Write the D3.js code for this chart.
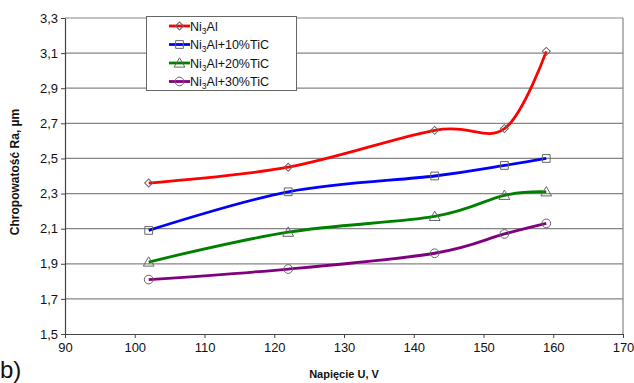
<!DOCTYPE html>
<html><head><meta charset="utf-8">
<script src="https://cdn.jsdelivr.net/npm/d3@7"></script>
<style>body{margin:0;background:#fff;}svg{display:block;font-family:Arial,"Liberation Sans",sans-serif;}</style>
</head><body>
<svg id="c" width="634" height="383"></svg>
<script>
const voltages = [102, 122, 143, 153, 159];
const ni3al = [2.36, 2.45, 2.66, 2.67, 3.11];
const tic10 = [2.09, 2.31, 2.40, 2.46, 2.50];
const tic20 = [1.91, 2.08, 2.17, 2.29, 2.31];
const tic30 = [1.81, 1.87, 1.96, 2.07, 2.13];
const seriesNames = ["Ni3Al", "Ni3Al+10%TiC", "Ni3Al+20%TiC", "Ni3Al+30%TiC"];
const seriesColors = ["#ff0000", "#0000ff", "#008000", "#800080"];
const seriesSymbols = ["diamond", "square", "triangle", "circle"];
const xTicks = [90, 100, 110, 120, 130, 140, 150, 160, 170];
const yTicks = [1.5, 1.7, 1.9, 2.1, 2.3, 2.5, 2.7, 2.9, 3.1, 3.3];

const svg = d3.select("#c");
const L = 65, R = 623, T = 18, B = 334;
const x = d3.scaleLinear().domain([90, 170]).range([L, R]);
const y = d3.scaleLinear().domain([1.5, 3.3]).range([B, T]);
const fmt = d => d3.format(".1f")(d).replace(".", ",");

// gridlines
svg.append("g").selectAll("line").data(yTicks.slice(1)).join("line")
  .attr("x1", L).attr("x2", R).attr("y1", d => y(d)).attr("y2", d => y(d))
  .attr("stroke", "#858585").attr("stroke-width", 1.2);
svg.append("line").attr("x1", R).attr("x2", R).attr("y1", T).attr("y2", B).attr("stroke", "#858585").attr("stroke-width", 1.2);

// axes
const xa = svg.append("g").attr("transform", `translate(0,${B})`)
  .call(d3.axisBottom(x).tickValues(xTicks).tickSize(4).tickSizeOuter(0).tickFormat(d3.format("d")));
const ya = svg.append("g").attr("transform", `translate(${L},0)`)
  .call(d3.axisLeft(y).tickValues(yTicks).tickSize(4).tickSizeOuter(0).tickFormat(fmt));
[xa, ya].forEach(a => {
  a.select(".domain").attr("stroke", "#444").attr("stroke-width", 1.2);
  a.selectAll(".tick line").attr("stroke", "#444");
  a.selectAll("text").attr("font-size", 13).attr("fill", "#111").attr("font-family", "Arial, 'Liberation Sans', sans-serif");
});
xa.selectAll("text").attr("dy", "0.71em").attr("y", 9);
ya.selectAll("text").attr("x", -7);

// titles
svg.append("text").attr("x", 344).attr("y", 378).attr("text-anchor", "middle")
  .attr("font-size", 11).attr("font-weight", "bold").attr("fill", "#111").text("Napięcie U, V");
svg.append("text").attr("transform", "translate(19,172) rotate(-90)").attr("text-anchor", "middle")
  .attr("font-size", 12).attr("font-weight", "bold").attr("fill", "#111").text("Chropowatość Ra, µm");
svg.append("text").attr("x", 0).attr("y", 378).attr("font-size", 24).attr("fill", "#111").text("b)");

const allSeries = [ni3al, tic10, tic20, tic30];
const line = d3.line().x((d, i) => x(voltages[i])).y(d => y(d)).curve(d3.curveCardinal.tension(0));
const symMap = {diamond: d3.symbolSquare, square: d3.symbolSquare, triangle: d3.symbolTriangle, circle: d3.symbolCircle};
const symSize = {diamond: 32, square: 60, triangle: 50, circle: 60};
const symRot = {diamond: 45, square: 0, triangle: 0, circle: 0};

allSeries.forEach((vals, k) => {
  svg.append("path").attr("d", line(vals)).attr("fill", "none")
    .attr("stroke", seriesColors[k]).attr("stroke-width", 2.8);
});
allSeries.forEach((vals, k) => {
  const s = seriesSymbols[k];
  svg.append("g").selectAll("path").data(vals).join("path")
    .attr("transform", (d, i) => `translate(${x(voltages[i])},${y(d) + (s === "triangle" ? 1 : 0)}) rotate(${symRot[s]})`)
    .attr("d", d3.symbol().type(symMap[s]).size(symSize[s]))
    .attr("fill", "none").attr("stroke", "#666").attr("stroke-width", 1);
});

// legend
const lg = svg.append("g");
lg.append("rect").attr("x", 146.5).attr("y", 16.5).attr("width", 150).attr("height", 74)
  .attr("fill", "#fff").attr("stroke", "#666").attr("stroke-width", 1);
seriesNames.forEach((n, k) => {
  const yy = 26 + k * 18.5;
  lg.append("line").attr("x1", 169).attr("x2", 190).attr("y1", yy).attr("y2", yy)
    .attr("stroke", seriesColors[k]).attr("stroke-width", 2.8);
  const s = seriesSymbols[k];
  lg.append("path").attr("transform", `translate(179.5,${yy + (s === "triangle" ? 1 : 0)}) rotate(${symRot[s]})`)
    .attr("d", d3.symbol().type(symMap[s]).size(symSize[s]))
    .attr("fill", "none").attr("stroke", "#666").attr("stroke-width", 1);
  const t = lg.append("text").attr("x", 190).attr("y", yy + 4.5).attr("font-size", 12.5).attr("fill", "#111");
  t.append("tspan").text("Ni");
  t.append("tspan").attr("font-size", 8.5).attr("dy", 3).text("3");
  t.append("tspan").attr("dy", -3).text(n.slice(3));
});
</script>
</body></html>
